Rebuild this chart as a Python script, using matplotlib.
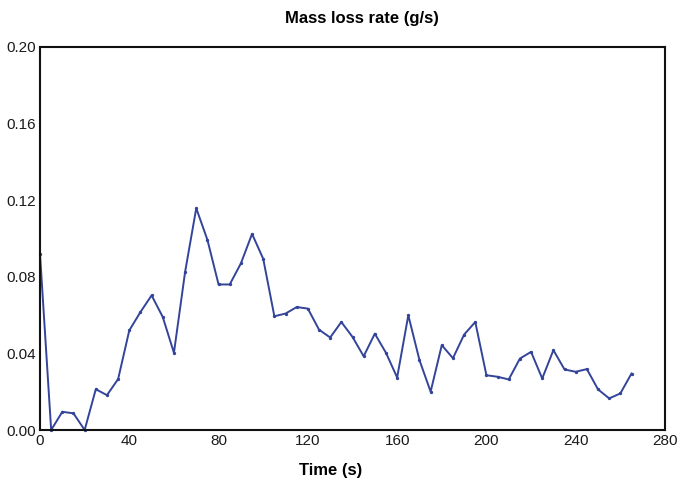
import matplotlib
matplotlib.use("Agg")
import matplotlib.pyplot as plt

plt.rcParams['font.family'] = ['Liberation Sans', 'DejaVu Sans']

time_s = [0, 5, 10, 15, 20, 25, 30, 35, 40, 45, 50, 55, 60, 65, 70, 75, 80, 85,
          90, 95, 100, 105, 110, 115, 120, 125, 130, 135, 140, 145, 150, 155,
          160, 165, 170, 175, 180, 185, 190, 195, 200, 205, 210, 215, 220, 225,
          230, 235, 240, 245, 250, 255, 260, 265]
mass_loss = [0.092, 0.0, 0.0095, 0.0087, 0.0, 0.0213, 0.0182, 0.0266, 0.052,
             0.0616, 0.0703, 0.059, 0.0403, 0.0825, 0.1158, 0.0993, 0.076, 0.076,
             0.087, 0.1024, 0.0894, 0.0594, 0.0608, 0.0642, 0.0634, 0.0524,
             0.0483, 0.0564, 0.0486, 0.0385, 0.0503, 0.0403, 0.0274, 0.0599,
             0.0365, 0.020, 0.0443, 0.0375, 0.0498, 0.0564, 0.0286, 0.0278,
             0.0264, 0.0373, 0.0408, 0.0269, 0.0417, 0.0316, 0.0304, 0.0318,
             0.0212, 0.0165, 0.0191, 0.0295]
x_ticks = [0, 40, 80, 120, 160, 200, 240, 280]
y_ticks = [0.00, 0.04, 0.08, 0.12, 0.16, 0.20]
y_tick_labels = ["0.00", "0.04", "0.08", "0.12", "0.16", "0.20"]

fig = plt.figure(figsize=(6.82, 4.84), dpi=100)
ax = fig.add_axes([40/682, 1 - 430/484, (665 - 40)/682, (430 - 47)/484])
ax.plot(time_s, mass_loss, color="#33449a", lw=1.4, marker="o", ms=1.4,
        clip_on=False)
ax.set_xlim(0, 280)
ax.set_ylim(0, 0.20)
ax.set_xticks(x_ticks)
ax.set_yticks(y_ticks)
ax.set_yticklabels(y_tick_labels)
ax.tick_params(length=0, labelsize=11, pad=3, colors="#1a1a1a")
for s in ax.spines.values():
    s.set_linewidth(1.5)
    s.set_color("#111111")

fig.text(362/682, 1 - 18/484, "Mass loss rate (g/s)", ha="center", va="center",
         fontsize=12, fontweight="bold")
fig.text(331/682, 1 - 470/484, "Time (s)", ha="center", va="center",
         fontsize=12, fontweight="bold")

fig.savefig("out.png", dpi=100)
